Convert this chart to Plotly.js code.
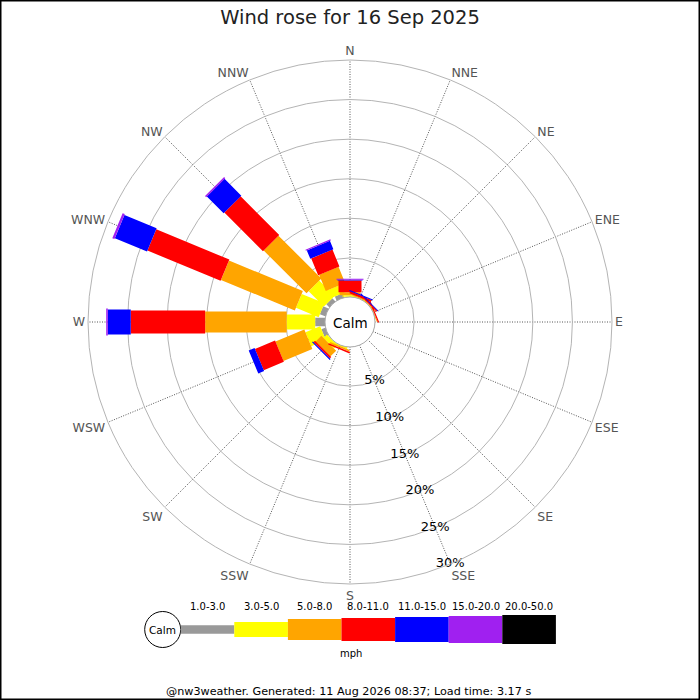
<!DOCTYPE html>
<html>
<head>
<meta charset="utf-8">
<script src="https://cdn.plot.ly/plotly-3.0.1.min.js"></script>
<style>html,body{margin:0;padding:0;background:#fff;}#chart{width:700px;height:700px;}</style>
</head>
<body>
<div id="chart"></div>
<script>
// ---- data ----
const dirNames  = ['N','NNE','NE','ENE','E','ESE','SE','SSE','S','SSW','SW','WSW','W','WNW','NW','NNW'];
const dirAngles = [0,22.5,45,67.5,90,112.5,135,157.5,180,202.5,225,247.5,270,292.5,315,337.5];
const speedBins = ['1.0-3.0','3.0-5.0','5.0-8.0','8.0-11.0','11.0-15.0','15.0-20.0','20.0-50.0'];
const speedUnit = 'mph';
// percent of time per direction (N..NNW) for each speed bin
const pct_1_3   = [0.1, 0,    0,    0,    0,0,0,0,0, 0,   0.1,  0.6,  1.3, 0.8,  0.6,  0.6];
const pct_3_5   = [0.2, 0.1,  0.1,  0.05, 0,0,0,0,0, 0.2, 0.6,  2.0,  3.6, 3.1,  2.75, 1.1];
const pct_5_8   = [0.35,0.15, 0.1,  0.1,  0,0,0,0,0, 0.2, 1.0,  3.95, 10.3,10.1, 7.65, 2.2];
const pct_8_11  = [1.5, 0.25, 0.15, 0.15, 0,0,0,0,0, 0.2, 0.25, 2.75, 9.4, 10.0, 6.9,  2.3];
const pct_11_15 = [0.1, 0.12, 0.1,  0,    0,0,0,0,0, 0,   0.15, 0.8,  2.9, 4.4,  3.0,  1.15];
const pct_15_20 = [0.12,0,    0,    0,    0,0,0,0,0, 0,   0,    0,    0.2, 0.3,  0.2,  0.15];
const pct_20_50 = [0,   0,    0,    0,    0,0,0,0,0, 0,   0,    0,    0,   0,    0,    0];
const radialTicks    = [5,10,15,20,25,30];
const radialTickText = ['5%','10%','15%','20%','25%','30%'];
const titleText  = 'Wind rose for 16 Sep 2025';
const footerText = '@nw3weather. Generated: 11 Aug 2026 08:37; Load time: 3.17 s';

// ---- styling ----
const series    = [pct_1_3, pct_3_5, pct_5_8, pct_8_11, pct_11_15, pct_15_20, pct_20_50];
const binColors = ['#999999','#ffff00','#ffa500','#ff0000','#0000ff','#a020f0','#000000'];
const binWidths = [8.5, 15, 21, 23, 25, 27, 29];   // px bar thickness
const W = 700, H = 700;
const CX = 350, CY = 322, R = 262, HOLE_PX = 24.5;
const HOLE = HOLE_PX / R, RMAX = 30;

function r2px(v){ return R * (HOLE + (1 - HOLE) * v / RMAX); }
function px2r(rho){ return (rho / R - HOLE) * RMAX / (1 - HOLE); }

const traces = [];
const cum = dirAngles.map(() => 0);
series.forEach((vals, j) => {
  const rr = [], tt = [];
  const w = binWidths[j] / 2;
  vals.forEach((v, i) => {
    const a = cum[i], b = a + v;
    cum[i] = b;
    if (v <= 0) return;
    const d1 = r2px(a), d2 = r2px(b);
    const pts = [[d1,-w],[d2,-w],[d2,w],[d1,w],[d1,-w]];
    pts.forEach(([d, s]) => {
      rr.push(px2r(Math.sqrt(d*d + s*s)));
      tt.push(dirAngles[i] + Math.atan2(s, d) * 180 / Math.PI);
    });
    rr.push(null); tt.push(null);
  });
  traces.push({
    type: 'scatterpolar', r: rr, theta: tt, mode: 'lines', fill: 'toself',
    fillcolor: binColors[j], line: {width: 0, color: binColors[j]},
    connectgaps: false, hoverinfo: 'skip', showlegend: false, name: speedBins[j]
  });
});

traces.push({
  type: 'scatterpolar', mode: 'text', r: radialTicks,
  theta: radialTicks.map(() => 157.5), text: radialTickText,
  textposition: 'middle center', textfont: {family: 'DejaVu Sans', size: 13, color: '#000'},
  cliponaxis: false, hoverinfo: 'skip', showlegend: false
});

const shapes = [];
const annotations = [];
function px(x){ return x / W; }
function py(y){ return 1 - y / H; }

// calm circle in centre
const CALM_R = 25;
shapes.push({type:'circle', xref:'paper', yref:'paper', layer:'above',
  x0:px(CX-CALM_R), x1:px(CX+CALM_R), y0:py(CY+CALM_R), y1:py(CY-CALM_R),
  fillcolor:'#ffffff', line:{color:'#aaaaaa', width:1}});
annotations.push({text:'Calm', xref:'paper', yref:'paper', x:px(CX), y:py(CY+1),
  showarrow:false, xanchor:'center', yanchor:'middle',
  font:{family:'DejaVu Sans', size:13.5, color:'#000'}});

// legend
const LX0 = 180.7, LSTEP = 53.6, LCY = 629.5, LCR = 18;
shapes.push({type:'circle', xref:'paper', yref:'paper',
  x0:px(LX0-2*LCR), x1:px(LX0), y0:py(LCY+LCR), y1:py(LCY-LCR),
  fillcolor:'#ffffff', line:{color:'#000', width:1}});
annotations.push({text:'Calm', xref:'paper', yref:'paper', x:px(LX0-LCR), y:py(LCY),
  showarrow:false, xanchor:'center', yanchor:'middle',
  font:{family:'DejaVu Sans', size:10.5, color:'#000'}});
speedBins.forEach((lab, j) => {
  const x0 = LX0 + j*LSTEP, x1 = x0 + LSTEP, h = binWidths[j];
  shapes.push({type:'rect', xref:'paper', yref:'paper',
    x0:px(x0), x1:px(x1), y0:py(LCY+h/2), y1:py(LCY-h/2),
    fillcolor:binColors[j], line:{width:0}});
  annotations.push({text:lab, xref:'paper', yref:'paper', x:px((x0+x1)/2), y:py(606.5),
    showarrow:false, xanchor:'center', yanchor:'middle',
    font:{family:'DejaVu Sans', size:10, color:'#000'}});
});
annotations.push({text:speedUnit, xref:'paper', yref:'paper', x:px(351), y:py(653.5),
  showarrow:false, xanchor:'center', yanchor:'middle',
  font:{family:'DejaVu Sans', size:10, color:'#000'}});
annotations.push({text:footerText, xref:'paper', yref:'paper', x:px(348), y:py(691.5),
  showarrow:false, xanchor:'center', yanchor:'middle',
  font:{family:'DejaVu Sans', size:11.2, color:'#000'}});

// image border
shapes.push({type:'rect', xref:'paper', yref:'paper', x0:0, x1:1, y0:0, y1:1,
  line:{color:'#000', width:3}, fillcolor:'rgba(0,0,0,0)', layer:'above'});

const layout = {
  width: W, height: H,
  margin: {l:0, r:0, t:0, b:0, pad:0},
  paper_bgcolor: '#fff',
  font: {family: 'DejaVu Sans'},
  title: {text: titleText, x: 0.5, xanchor: 'center', xref: 'paper',
          y: 1 - 16.7/H, yanchor: 'middle', yref: 'container',
          font: {family: 'DejaVu Sans', size: 19.5, color: '#222'}},
  showlegend: false,
  polar: {
    domain: {x: [px(CX-R), px(CX+R)], y: [py(CY+R), py(CY-R)]},
    hole: HOLE,
    bgcolor: '#fff',
    radialaxis: {range: [0, RMAX], tickmode: 'array', tickvals: radialTicks,
      showticklabels: false, ticks: '', showline: false,
      gridcolor: '#b4b4b4', gridwidth: 1},
    angularaxis: {rotation: 90, direction: 'clockwise', thetaunit: 'degrees',
      tickmode: 'array', tickvals: dirAngles, ticktext: dirNames, ticks: '',
      tickfont: {family: 'DejaVu Sans', size: 12.5, color: '#555'},
      showgrid: true, gridcolor: '#555', gridwidth: 1, griddash: '1px,1.5px',
      showline: true, linecolor: '#b4b4b4', linewidth: 1}
  },
  shapes: shapes,
  annotations: annotations,
  hovermode: false
};

Plotly.newPlot('chart', traces, layout, {staticPlot: true, displayModeBar: false});
</script>
</body>
</html>
